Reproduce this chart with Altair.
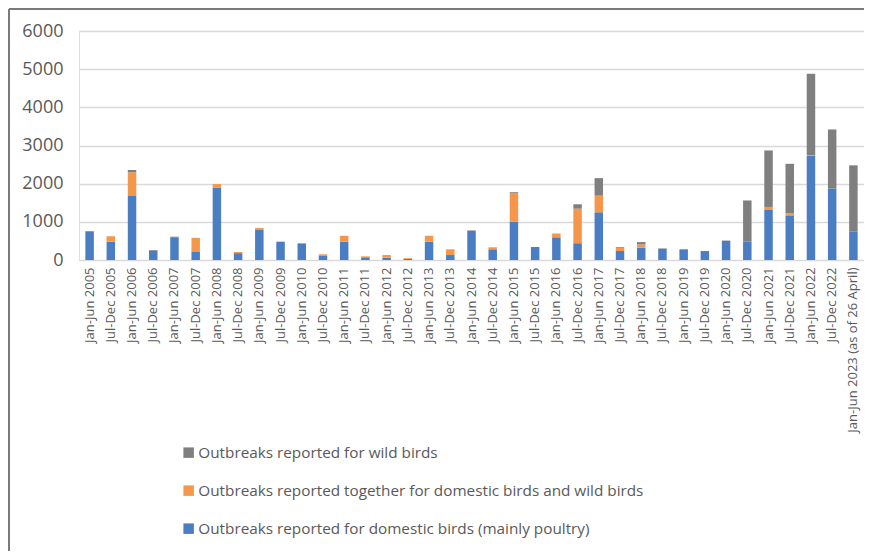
import altair as alt
import pandas as pd

periods = []
for yr in range(2005, 2023):
    periods.append(f"Jan-Jun {yr}")
    periods.append(f"Jul-Dec {yr}")
periods.append("Jan-Jun 2023 (as of 26 April)")

domestic = [750, 480, 1680, 240, 580, 210, 1890, 180, 800, 480, 435, 120, 480, 70, 60, 30,
            480, 130, 760, 280, 1000, 340, 595, 440, 1250, 235, 320, 295, 280, 235, 500, 480,
            1310, 1170, 2740, 1875, 740]
together = [0, 140, 620, 0, 0, 370, 100, 30, 40, 0, 0, 30, 155, 26, 70, 20,
            155, 150, 0, 40, 760, 0, 85, 905, 435, 80, 90, 0, 0, 0, 0, 0,
            80, 60, 10, 0, 0]
wild = [10, 0, 55, 20, 30, 0, 0, 0, 0, 0, 0, 0, 0, 0, 0, 0,
        0, 0, 15, 10, 20, 0, 10, 115, 460, 20, 60, 10, 0, 0, 10, 1080,
        1480, 1290, 2130, 1545, 1740]

s_wild = "Outbreaks reported for wild birds"
s_tog = "Outbreaks reported together for domestic birds and wild birds"
s_dom = "Outbreaks reported for domestic birds (mainly poultry)"

rows = []
for i, p in enumerate(periods):
    rows.append({"period": p, "series": s_dom, "value": domestic[i], "ord": 0})
    rows.append({"period": p, "series": s_tog, "value": together[i], "ord": 1})
    rows.append({"period": p, "series": s_wild, "value": wild[i], "ord": 2})
df = pd.DataFrame(rows)

FONT = "Open Sans"
TXT = "#595959"

bars = alt.Chart(df).mark_bar().encode(
    x=alt.X("period:N", sort=periods, title=None,
            scale=alt.Scale(paddingInner=0.6, paddingOuter=0.3),
            axis=alt.Axis(labelAngle=-90, labelFontSize=13, labelColor=TXT, labelFont=FONT,
                          ticks=False, domain=False, labelPadding=7, labelLimit=300,
                          labelOverlap=False)),
    y=alt.Y("value:Q", stack="zero", title=None,
            scale=alt.Scale(domain=[0, 6000], nice=False),
            axis=alt.Axis(values=[0, 1000, 2000, 3000, 4000, 5000, 6000], labelFontSize=18,
                          labelColor=TXT, labelFont=FONT, ticks=False, domain=False,
                          labelPadding=16, gridColor="#D9D9D9", gridWidth=1.3, format="d")),
    color=alt.Color("series:N",
                    scale=alt.Scale(domain=[s_wild, s_tog, s_dom],
                                    range=["#7F7F7F", "#F5974A", "#4A7DC2"]),
                    legend=alt.Legend(title=None, orient="none", legendX=102, legendY=414,
                                      symbolType="square", symbolSize=110, symbolStrokeWidth=0,
                                      labelFontSize=15.3, labelColor=TXT, labelFont=FONT,
                                      rowPadding=22, labelOffset=2, labelLimit=700)),
    order=alt.Order("ord:Q", sort="ascending"),
)

border_left = alt.Chart(df).mark_rule(color="#7A7A7A", strokeWidth=2).encode(
    x=alt.value(-70), y=alt.value(-22), y2=alt.value(520))
border_top = alt.Chart(df).mark_rule(color="#7A7A7A", strokeWidth=2).encode(
    x=alt.value(-70), x2=alt.value(786), y=alt.value(-22))

chart = alt.layer(bars, border_left, border_top).properties(
    width=785, height=229,
    autosize=alt.AutoSizeParams(type="none"),
    padding={"left": 71, "top": 23, "right": 0, "bottom": 292},
).configure_view(stroke="transparent", strokeWidth=0).configure(background="white")

chart.save("out.html", embed_options={"renderer": "svg", "actions": False})
